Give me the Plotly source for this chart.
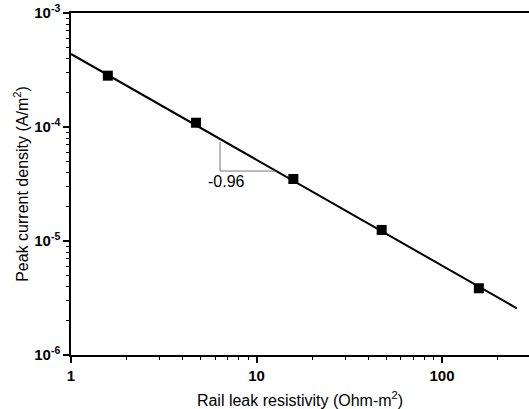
import numpy as np
import plotly.graph_objects as go

# Data
resistivity = [1.58, 4.72, 15.8, 47.3, 158]
current_density = [2.82e-4, 1.09e-4, 3.50e-5, 1.25e-5, 3.85e-6]

fit_x = [1, 253]
fit_y = [4.37e-4, 2.57e-6]

tri_x = [6.36, 6.36, 12.6]
tri_y = [7.43e-5, 4.11e-5, 4.11e-5]
slope_label = "-0.96"

y_tickvals = [1e-6, 1e-5, 1e-4, 1e-3]
y_ticktext = ["<b>10<sup>-6</sup></b>", "<b>10<sup>-5</sup></b>", "<b>10<sup>-4</sup></b>", "<b>10<sup>-3</sup></b>"]
x_tickvals = [1, 10, 100]
x_ticktext = ["<b>1</b>", "<b>10</b>", "<b>100</b>"]

x_minor = [m * 10 ** d for d in range(0, 3) for m in range(2, 10)]
y_minor = [m * 10.0 ** d for d in range(-6, -3) for m in range(2, 10)]

FONT = "Liberation Sans, Arial, sans-serif"

fig = go.Figure()
fig.add_trace(go.Scatter(x=fit_x, y=fit_y, mode="lines",
                         line=dict(color="black", width=2), showlegend=False))
fig.add_trace(go.Scatter(x=tri_x, y=tri_y, mode="lines",
                         line=dict(color="#777777", width=1), showlegend=False))
fig.add_trace(go.Scatter(x=resistivity, y=current_density, mode="markers",
                         marker=dict(symbol="square", size=10, color="black"),
                         showlegend=False))

fig.add_annotation(x=np.log10(6.9), y=np.log10(3.35e-5), text=slope_label,
                   showarrow=False, font=dict(size=16, color="black", family=FONT))

fig.update_layout(
    width=529, height=409,
    margin=dict(l=71, r=0, t=13, b=54),
    plot_bgcolor="white", paper_bgcolor="white",
    font=dict(family=FONT, color="black"),
)
fig.update_xaxes(
    type="log", range=[0, 2.469],
    tickvals=x_tickvals, ticktext=x_ticktext,
    ticks="outside", ticklen=6, tickwidth=1.5, tickcolor="black",
    minor=dict(tickvals=x_minor, ticks="outside", ticklen=3, tickcolor="black", tickwidth=1.2, showgrid=False),
    showline=True, linecolor="black", linewidth=1.5, mirror=True,
    showgrid=False, zeroline=False,
    tickfont=dict(size=15, family=FONT),
    title=dict(text="Rail leak resistivity (Ohm-m<sup>2</sup>)", font=dict(size=16, family=FONT), standoff=14),
)
fig.update_yaxes(
    type="log", range=[-6, -3],
    tickvals=y_tickvals, ticktext=y_ticktext,
    ticks="outside", ticklen=6, tickwidth=1.5, tickcolor="black",
    minor=dict(tickvals=y_minor, ticks="outside", ticklen=3, tickcolor="black", tickwidth=1.2, showgrid=False),
    showline=True, linecolor="black", linewidth=1.5,
    showgrid=False, zeroline=False,
    tickfont=dict(size=15, family=FONT),
    title=dict(text="Peak current density (A/m<sup>2</sup>)", font=dict(size=16, family=FONT), standoff=2),
)

fig.write_html("out.html")
